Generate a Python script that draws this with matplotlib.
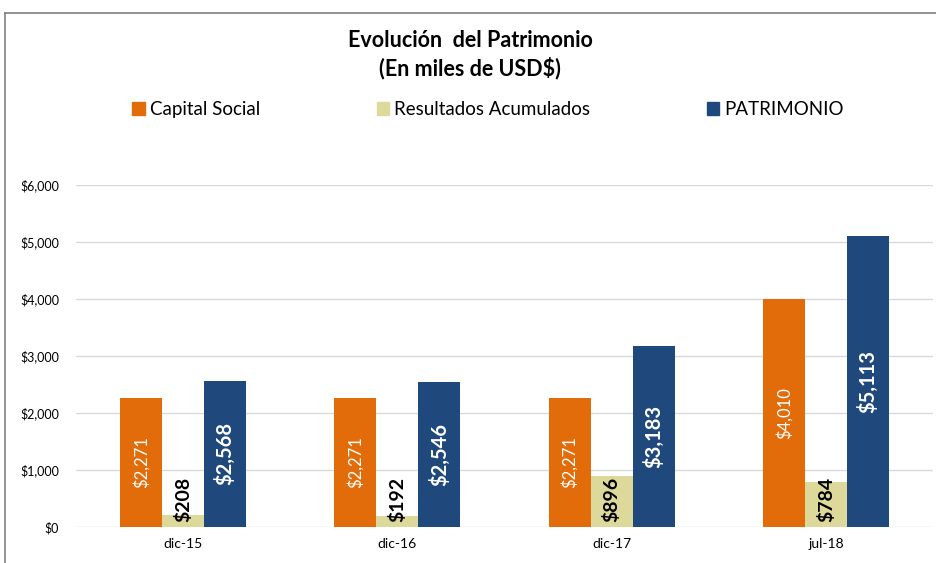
import matplotlib.pyplot as plt
from matplotlib.lines import Line2D
from matplotlib.patches import Patch
import numpy as np

periods = ["dic-15", "dic-16", "dic-17", "jul-18"]
capital = [2271, 2271, 2271, 4010]
resultados = [208, 192, 896, 784]
patrimonio = [2568, 2546, 3183, 5113]

c_cap = '#E36C0A'
c_res = '#DDD99B'
c_pat = '#1F497D'

plt.rcParams['font.family'] = ['Lato', 'DejaVu Sans']

fig = plt.figure(figsize=(9.37, 5.63), dpi=100)
ax = fig.add_axes([0.081, 0.064, 0.915, 0.607])

x = np.arange(len(periods))
w = 0.196
b1 = ax.bar(x - w, capital, w, color=c_cap)
b2 = ax.bar(x, resultados, w, color=c_res)
b3 = ax.bar(x + w, patrimonio, w, color=c_pat)

fmt = lambda v: "${:,}".format(v)
for xi, v in zip(x - w, capital):
	ax.text(xi, v / 2, fmt(v), rotation=90, ha='center', va='center',
		color='white', fontsize=12)
for xi, v in zip(x, resultados):
	ax.text(xi, 90, fmt(v), rotation=90, ha='center', va='bottom',
		color='black', fontsize=14, fontweight='bold')
for xi, v in zip(x + w, patrimonio):
	ax.text(xi, v / 2, fmt(v), rotation=90, ha='center', va='center',
		color='white', fontsize=14.5, fontweight='bold')

ax.set_xlim(-0.5, len(periods) - 0.5)
ax.set_ylim(0, 6000)
ax.set_yticks(np.arange(0, 6001, 1000))
ax.set_yticklabels([fmt(int(t)) for t in np.arange(0, 6001, 1000)], fontsize=9)
ax.set_xticks(x)
ax.set_xticklabels(periods, fontsize=10)
ax.tick_params(length=0, pad=12)
ax.tick_params(axis='x', pad=8)
ax.grid(axis='y', color='#d9d9d9', linewidth=1)
ax.set_axisbelow(True)
for s in ax.spines.values():
	s.set_visible(False)

fig.text(0.502, 0.928, "Evolución  del Patrimonio", ha='center', va='center',
	fontsize=15.5, fontweight='bold')
fig.text(0.502, 0.879, "(En miles de USD$)", ha='center', va='center',
	fontsize=15.5, fontweight='bold')

handles = [Patch(color=c_cap), Patch(color=c_res), Patch(color=c_pat)]
labels = ["Capital Social", "Resultados Acumulados", "PATRIMONIO"]
leg = fig.legend(handles, labels, loc='center', bbox_to_anchor=(0.521, 0.806),
	ncol=3, frameon=False, fontsize=13.5, handlelength=0.65, handleheight=0.7,
	handletextpad=0.3, columnspacing=6.2)

# outer border (top and left)
fig.add_artist(Line2D([5 / 937, 1], [1 - 13 / 563, 1 - 13 / 563],
	transform=fig.transFigure, color='#808080', linewidth=1.2))
fig.add_artist(Line2D([5 / 937, 5 / 937], [0, 1 - 13 / 563],
	transform=fig.transFigure, color='#808080', linewidth=1.2))

plt.savefig("out.png", dpi=100)
